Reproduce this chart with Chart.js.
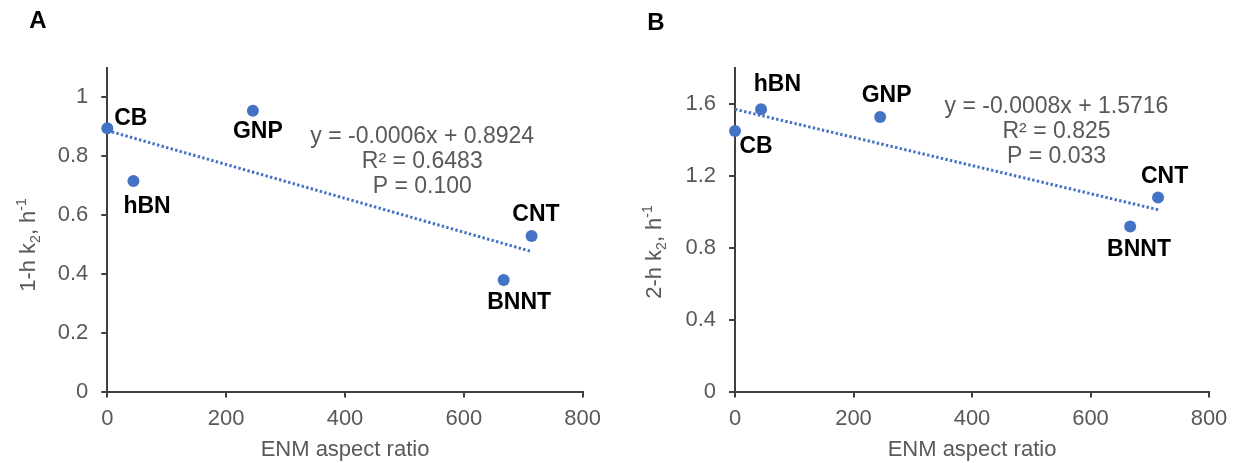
<!DOCTYPE html>
<html>
<head>
<meta charset="utf-8">
<script src="https://cdn.jsdelivr.net/npm/chart.js@4.4.0/dist/chart.umd.min.js"></script>
<style>
  html, body { margin: 0; padding: 0; background: #fff; }
  #wrap { position: relative; width: 1238px; height: 463px; }
  .panel { position: absolute; top: 0; height: 463px; }
  #panelA { left: 0; width: 620px; }
  #panelB { left: 620px; width: 618px; }
</style>
</head>
<body>
<div id="wrap">
  <div class="panel" id="panelA"><canvas id="chartA"></canvas></div>
  <div class="panel" id="panelB"><canvas id="chartB"></canvas></div>
</div>
<script>
// nanomaterials and their aspect ratios
const materials = ['CB', 'hBN', 'GNP', 'CNT', 'BNNT'];
const aspectRatio = [0, 44, 245, 714, 667];

// k2 rate constants (h^-1) after 1 h and 2 h
const k2OneHour = [0.895, 0.716, 0.955, 0.529, 0.379];
const k2TwoHour = [1.449, 1.570, 1.528, 1.080, 0.918];

const xTicks = [0, 200, 400, 600, 800];
const yTicksA = [0, 0.2, 0.4, 0.6, 0.8, 1];
const yTicksB = [0, 0.4, 0.8, 1.2, 1.6];

const statsA = ['y = -0.0006x + 0.8924', 'R\u00B2 = 0.6483', 'P = 0.100'];
const statsB = ['y = -0.0008x + 1.5716', 'R\u00B2 = 0.825', 'P = 0.033'];

const FONT = '"Liberation Sans", Arial, sans-serif';
const BLUE = '#4472C4';
const GREY = '#595959';
const AXIS = '#404040';

// least squares line through the points
function fitLine(xs, ys) {
  const n = xs.length;
  const mx = xs.reduce((a, b) => a + b, 0) / n;
  const my = ys.reduce((a, b) => a + b, 0) / n;
  let sxy = 0, sxx = 0;
  xs.forEach((x, i) => {
    sxy += (x - mx) * (ys[i] - my);
    sxx += (x - mx) * (x - mx);
  });
  const slope = sxy / sxx;
  return { slope, intercept: my - slope * mx };
}

// axis title with k subscript and h superscript
function drawYTitle(ctx, lead, cx, cy) {
  const size = 22, small = 14;
  const parts = [
    { t: lead, f: size, dy: 0 },
    { t: '2', f: small, dy: 5 },
    { t: ', h', f: size, dy: 0 },
    { t: '-1', f: small, dy: -9 }
  ];
  ctx.save();
  ctx.translate(cx, cy);
  ctx.rotate(-Math.PI / 2);
  ctx.fillStyle = GREY;
  ctx.textBaseline = 'alphabetic';
  ctx.textAlign = 'left';
  let total = 0;
  parts.forEach(p => { ctx.font = p.f + 'px ' + FONT; p.w = ctx.measureText(p.t).width; total += p.w; });
  let x = -total / 2;
  parts.forEach(p => {
    ctx.font = p.f + 'px ' + FONT;
    ctx.fillText(p.t, x, 8 + p.dy);
    x += p.w;
  });
  ctx.restore();
}

const panelText = {
  id: 'panelText',
  afterDatasetsDraw(chart, args, opts) {
    const ctx = chart.ctx;
    const xs = chart.scales.x, ys = chart.scales.y;
    const pts = chart.getDatasetMeta(0).data;
    ctx.save();
    ctx.textAlign = 'center';
    ctx.textBaseline = 'middle';

    // point names
    ctx.fillStyle = '#000';
    ctx.font = 'bold 23px ' + FONT;
    materials.forEach((name, i) => {
      const off = opts.offsets[i];
      ctx.fillText(name, pts[i].x + off[0], pts[i].y + off[1]);
    });

    // regression statistics
    ctx.fillStyle = GREY;
    ctx.font = '23px ' + FONT;
    const sx = xs.getPixelForValue(opts.statsAt.x);
    const sy = ys.getPixelForValue(opts.statsAt.y);
    opts.stats.forEach((line, i) => ctx.fillText(line, sx, sy + i * 25));

    // panel letter
    ctx.fillStyle = '#000';
    ctx.font = 'bold 24px ' + FONT;
    ctx.fillText(opts.letter, opts.letterAt[0], opts.letterAt[1]);
    ctx.restore();

    drawYTitle(ctx, opts.yLead, opts.titleAt[0], opts.titleAt[1]);
  }
};

function makeChart(p) {
  const fit = fitLine(aspectRatio, p.values);
  const x0 = Math.min(...aspectRatio), x1 = Math.max(...aspectRatio);
  const axisLines = {
    drawOnChartArea: false,
    drawTicks: true,
    tickLength: 6,
    tickColor: AXIS,
    tickWidth: 2,
    color: AXIS,
    lineWidth: 2
  };
  const tickFont = { family: FONT, size: 22 };
  const fmt = v => String(+Number(v).toFixed(1));

  return new Chart(document.getElementById(p.id), {
    type: 'scatter',
    data: {
      datasets: [
        {
          data: aspectRatio.map((x, i) => ({ x, y: p.values[i] })),
          backgroundColor: BLUE,
          borderWidth: 0,
          pointRadius: 6,
          pointHoverRadius: 6,
          clip: false,
          order: 0
        },
        {
          type: 'line',
          data: [
            { x: x0, y: fit.intercept + fit.slope * x0 },
            { x: x1, y: fit.intercept + fit.slope * x1 }
          ],
          borderColor: BLUE,
          borderWidth: 3,
          borderDash: [2.4, 2.3],
          pointRadius: 0,
          fill: false,
          clip: false,
          order: 1
        }
      ]
    },
    options: {
      responsive: true,
      maintainAspectRatio: false,
      animation: false,
      events: [],
      layout: { padding: { left: 0, right: p.padRight, top: 68, bottom: 0 } },
      plugins: {
        legend: { display: false },
        tooltip: { enabled: false },
        panelText: {
          offsets: p.offsets,
          stats: p.stats,
          statsAt: p.statsAt,
          letter: p.letter,
          letterAt: p.letterAt,
          yLead: p.yLead,
          titleAt: p.titleAt
        }
      },
      scales: {
        x: {
          type: 'linear',
          min: 0,
          max: 800,
          afterBuildTicks: s => { s.ticks = xTicks.map(v => ({ value: v })); },
          afterFit: s => { s.height = 463 - 391.5; },
          grid: axisLines,
          border: { color: AXIS, width: 2 },
          ticks: { color: GREY, font: tickFont, padding: 8, maxRotation: 0, callback: fmt },
          title: {
            display: true,
            text: 'ENM aspect ratio',
            color: GREY,
            font: { family: FONT, size: 22 },
            padding: { top: 0, bottom: 0 }
          }
        },
        y: {
          type: 'linear',
          min: 0,
          max: p.yMax,
          afterBuildTicks: s => { s.ticks = p.yTicks.map(v => ({ value: v })); },
          afterFit: s => { s.width = p.plotLeft; },
          grid: axisLines,
          border: { color: AXIS, width: 2 },
          ticks: { color: GREY, font: tickFont, padding: 13, callback: fmt }
        }
      }
    },
    plugins: [panelText]
  });
}

makeChart({
  id: 'chartA',
  values: k2OneHour,
  yMax: 1.1,
  yTicks: yTicksA,
  plotLeft: 107.3,
  padRight: 37.3,
  stats: statsA,
  statsAt: { x: 530, y: 0.866 },
  offsets: [[23.5, -9.4], [13.6, 26], [5, 21.4], [4.4, -21.7], [15.5, 23]],
  letter: 'A',
  letterAt: [38, 21],
  yLead: '1-h k',
  titleAt: [27, 245]
});

makeChart({
  id: 'chartB',
  values: k2TwoHour,
  yMax: 1.8,
  yTicks: yTicksB,
  plotLeft: 115,
  padRight: 29,
  stats: statsB,
  statsAt: { x: 542.6, y: 1.585 },
  offsets: [[21, 15.8], [16.3, -25], [6.4, -21], [6.5, -21], [8.8, 22.8]],
  letter: 'B',
  letterAt: [36, 23],
  yLead: '2-h k',
  titleAt: [33, 252]
});
</script>
</body>
</html>
